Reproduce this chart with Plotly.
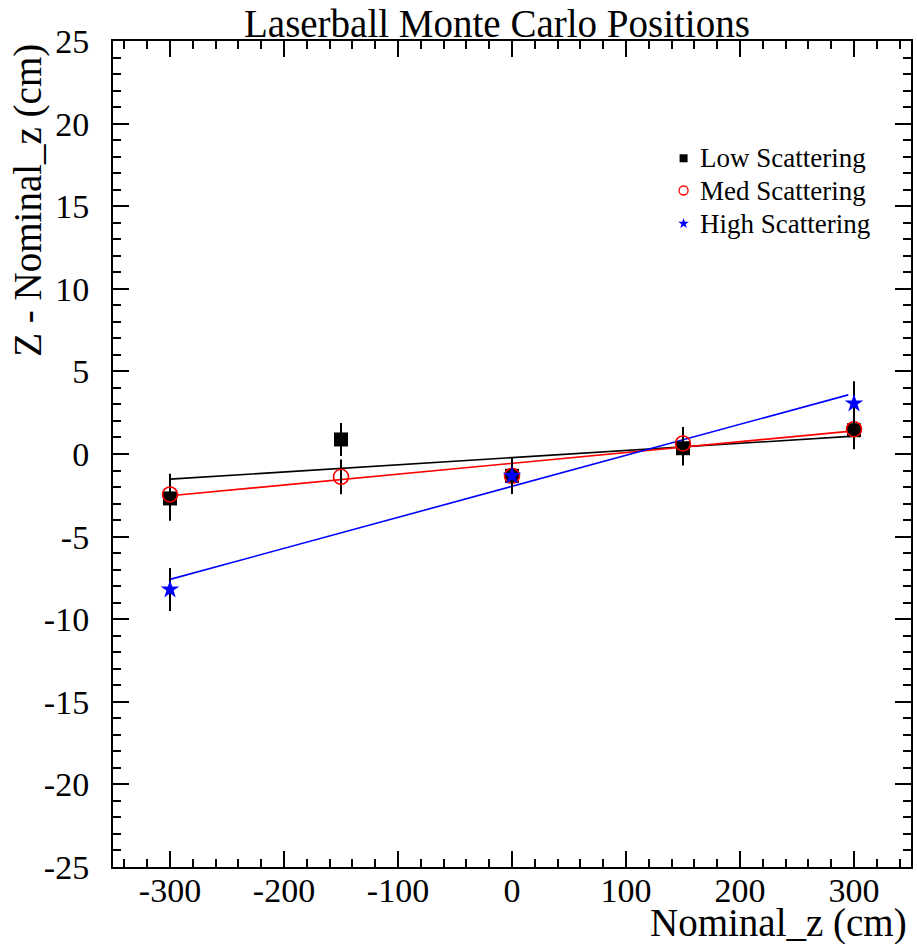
import plotly.graph_objects as go

# Nominal laserball positions (cm)
nominal_z = [-300, -150, 0, 150, 300]
nominal_z_high = [-300, 0, 300]

# Fitted position minus nominal position (cm)
low_dz = [-2.69, 0.88, -1.32, 0.35, 1.44]
low_err = [1.35, 1.0, 1.1, 1.05, 1.15]
med_dz = [-2.45, -1.38, -1.32, 0.64, 1.50]
med_err = [1.25, 1.05, 1.1, 1.0, 1.1]
high_dz = [-8.2, -1.32, 3.06]
high_err = [1.3, 1.1, 1.35]

# Straight-line fits (end points)
low_fit_x = [-300, 300]
low_fit_y = [-1.52, 1.08]
med_fit_x = [-300, 300]
med_fit_y = [-2.53, 1.40]
high_fit_x = [-300, 295]
high_fit_y = [-7.59, 3.58]

series_names = ["Low Scattering", "Med Scattering", "High Scattering"]

# Axis ticks (labels use a plain hyphen for negatives)
x_ticks = [-300, -200, -100, 0, 100, 200, 300]
x_ticktext = ["-300", "-200", "-100", "0", "100", "200", "300"]
y_ticks = [-25, -20, -15, -10, -5, 0, 5, 10, 15, 20, 25]
y_ticktext = ["-25", "-20", "-15", "-10", "-5", "0", "5", "10", "15", "20", "25"]

FONT = "Liberation Serif"

fig = go.Figure()

# fit lines
for fx, fy, col in [(low_fit_x, low_fit_y, "black"),
                    (med_fit_x, med_fit_y, "red"),
                    (high_fit_x, high_fit_y, "blue")]:
    fig.add_trace(go.Scatter(x=fx, y=fy, mode="lines", showlegend=False,
                             line=dict(color=col, width=1.6), hoverinfo="skip"))

# data points with error bars
def err(arr):
    return dict(type="data", array=arr, visible=True, color="black",
                thickness=2, width=0)

fig.add_trace(go.Scatter(x=nominal_z, y=low_dz, mode="markers", showlegend=False,
                         error_y=err(low_err),
                         marker=dict(symbol="square", size=14, color="black")))
fig.add_trace(go.Scatter(x=nominal_z, y=med_dz, mode="markers", showlegend=False,
                         error_y=err(med_err),
                         marker=dict(symbol="circle-open", size=15, color="red",
                                     line=dict(width=1.6, color="red"))))
fig.add_trace(go.Scatter(x=nominal_z_high, y=high_dz, mode="markers", showlegend=False,
                         error_y=err(high_err),
                         marker=dict(symbol="star", size=14, color="blue",
                                     line=dict(width=0))))

# legend box drawn on an overlay axis spanning the frame in 0..1 units
legend_x = 0.715
legend_text_x = 0.733
legend_rows = [0.858, 0.819, 0.779]
legend_markers = [dict(symbol="square", size=8, color="black"),
                  dict(symbol="circle-open", size=9, color="red", line=dict(width=1.3, color="red")),
                  dict(symbol="star", size=8, color="blue", line=dict(width=0))]
for row_y, mk in zip(legend_rows, legend_markers):
    fig.add_trace(go.Scatter(x=[legend_x], y=[row_y], mode="markers", marker=mk,
                             xaxis="x2", yaxis="y2", showlegend=False, hoverinfo="skip"))

annotations = [
    dict(text="Laserball Monte Carlo Positions", xref="paper", yref="paper",
         x=0.481, y=1.0, xanchor="center", yanchor="bottom", yshift=-6,
         showarrow=False, font=dict(family=FONT, size=39, color="black")),
    dict(text="Z - Nominal_z (cm)", xref="paper", yref="paper",
         x=-0.106, y=0.999, xanchor="center", yanchor="top", textangle=-90,
         showarrow=False, font=dict(family=FONT, size=39, color="black")),
    dict(text="Nominal_z (cm)", xref="paper", yref="paper",
         x=0.997, y=-0.068, xanchor="right", yanchor="middle",
         showarrow=False, font=dict(family=FONT, size=39, color="black")),
]
for row_y, name in zip(legend_rows, series_names):
    annotations.append(dict(text=name, xref="paper", yref="paper",
                            x=legend_text_x, y=row_y, xanchor="left", yanchor="middle",
                            showarrow=False, font=dict(family=FONT, size=27, color="black")))

axis_common = dict(
    showline=True, linecolor="black", linewidth=2, mirror="allticks",
    ticks="inside", ticklen=16, tickwidth=2, tickcolor="black",
    showgrid=False, zeroline=False,
    tickfont=dict(family=FONT, size=34, color="black"),
)

xaxis = dict(range=[-350, 350], tickvals=x_ticks, ticktext=x_ticktext,
             minor=dict(ticks="inside", ticklen=8, tickwidth=2, tickcolor="black",
                        dtick=20, tick0=0, showgrid=False),
             ticklabelstandoff=-8, **axis_common)
yaxis = dict(range=[-25, 25], tickvals=y_ticks, ticktext=y_ticktext,
             minor=dict(ticks="inside", ticklen=8, tickwidth=2, tickcolor="black",
                        dtick=1, tick0=0, showgrid=False),
             ticklabelstandoff=15, **axis_common)

fig.update_layout(
    width=917, height=944,
    margin=dict(l=113, r=4, t=41, b=77),
    paper_bgcolor="white", plot_bgcolor="white",
    showlegend=False,
    xaxis=xaxis,
    yaxis=yaxis,
    xaxis2=dict(overlaying="x", anchor="y2", range=[0, 1], visible=False, fixedrange=True),
    yaxis2=dict(overlaying="y", anchor="x2", range=[0, 1], visible=False, fixedrange=True),
    annotations=annotations,
)

fig.write_html("out.html")
